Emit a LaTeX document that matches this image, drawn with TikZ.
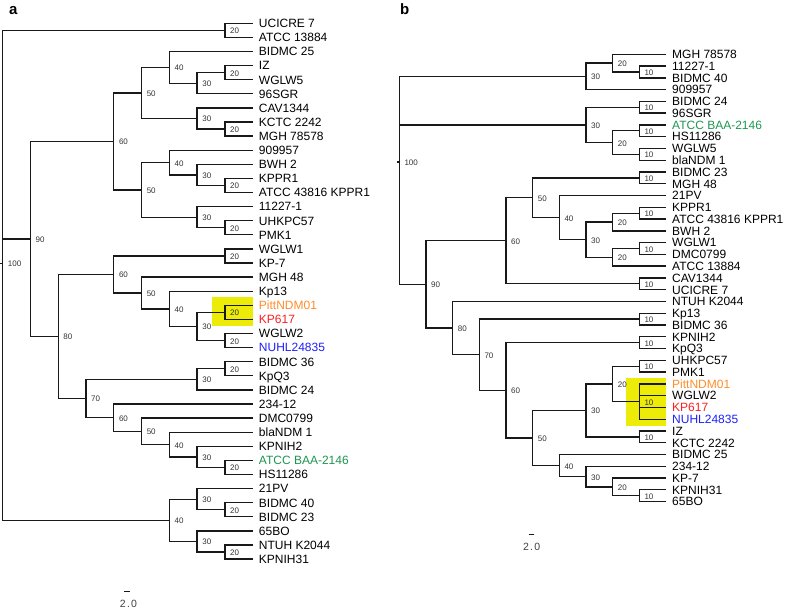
\documentclass[tikz,border=0pt]{standalone}
\usepackage{fontspec}
\setmainfont{Liberation Sans}
\definecolor{hl}{RGB}{236,236,8}
\definecolor{corange}{RGB}{255,140,40}
\definecolor{cred}{RGB}{250,30,30}
\definecolor{cblue}{RGB}{30,30,250}
\definecolor{cgreen}{RGB}{30,150,80}
\newcommand\LA[4][black]{\coordinate (#2) at ({xa(1)},{ya(#3)}); \node[leaf,text=#1] (#2t) at (#2) {#4};}
\newcommand\NA[3]{\coordinate (#1) at ({xa(#2)},{ya(#3)}); \node[nlab] (#1l) at (#1) {#20};}
\newcommand\LB[4][black]{\coordinate (#2) at ({xb(0)},{yb(#3)}); \node[leaf,text=#1] (#2t) at (#2) {#4};}
\newcommand\NB[3]{\coordinate (#1) at ({xb(#2)},{yb(#3)}); \node[nlab] (#1l) at (#1) {#20};}
\newcommand\kids[2]{\foreach \c in {#2}{\draw[br] (#1) |- (\c);}}
\begin{document}
\begin{tikzpicture}[x=1pt,y=-1pt,
  declare function={ya(\i)=23.3+(\i-1)*14.1; xa(\k)=2.7+(10-\k)*27.78; yb(\i)=54.3+(\i-1)*11.77; xb(\k)=399.3+(10-\k)*26.67;},
  br/.style={line width=1.35pt, draw=black!90, line join=miter},
  leaf/.style={anchor=base west, inner sep=0pt, font=\fontsize{12}{12}\selectfont, xshift=6pt, yshift=-4.3pt},
  nlab/.style={anchor=base west, inner sep=0pt, font=\fontsize{8}{8}\selectfont, text=black!80, xshift=5pt, yshift=-3.5pt},
  scl/.style={inner sep=0pt, font=\fontsize{10.5}{10.5}\selectfont\addfontfeatures{LetterSpace=12}, text=black!75},
  ttl/.style={anchor=base west, inner sep=0pt, font=\fontsize{15}{15}\selectfont\bfseries}
]
\useasboundingbox (0,0) rectangle (785,611);
\fill[hl] (211.7,297.3) rectangle (253.3,325.7);
\fill[hl] (625.7,378.3) rectangle (665.5,425.5);
\node[ttl] (ta) at (9,14) {a};
\node[ttl] (tb) at (400,14.3) {b};
% ---------- panel a leaves
\LA{a1}{1}{UCICRE 7}
\LA{a2}{2}{ATCC 13884}
\LA{a3}{3}{BIDMC 25}
\LA{a4}{4}{IZ}
\LA{a5}{5}{WGLW5}
\LA{a6}{6}{96SGR}
\LA{a7}{7}{CAV1344}
\LA{a8}{8}{KCTC 2242}
\LA{a9}{9}{MGH 78578}
\LA{a10}{10}{909957}
\LA{a11}{11}{BWH 2}
\LA{a12}{12}{KPPR1}
\LA{a13}{13}{ATCC 43816 KPPR1}
\LA{a14}{14}{11227-1}
\LA{a15}{15}{UHKPC57}
\LA{a16}{16}{PMK1}
\LA{a17}{17}{WGLW1}
\LA{a18}{18}{KP-7}
\LA{a19}{19}{MGH 48}
\LA{a20}{20}{Kp13}
\LA[corange]{a21}{21}{PittNDM01}
\LA[cred]{a22}{22}{KP617}
\LA{a23}{23}{WGLW2}
\LA[cblue]{a24}{24}{NUHL24835}
\LA{a25}{25}{BIDMC 36}
\LA{a26}{26}{KpQ3}
\LA{a27}{27}{BIDMC 24}
\LA{a28}{28}{234-12}
\LA{a29}{29}{DMC0799}
\LA{a30}{30}{blaNDM 1}
\LA{a31}{31}{KPNIH2}
\LA[cgreen]{a32}{32}{ATCC BAA-2146}
\LA{a33}{33}{HS11286}
\LA{a34}{34}{21PV}
\LA{a35}{35}{BIDMC 40}
\LA{a36}{36}{BIDMC 23}
\LA{a37}{37}{65BO}
\LA{a38}{38}{NTUH K2044}
\LA{a39}{39}{KPNIH31}
% ---------- panel a internal nodes
\NA{aA}{2}{1.5}
\NA{aB}{2}{4.5}
\NA{aC}{3}{5.25}
\NA{aD}{4}{4.125}
\NA{aE}{2}{8.5}
\NA{aF}{3}{7.75}
\NA{aG}{5}{5.9375}
\NA{aH}{2}{12.5}
\NA{aI}{3}{11.75}
\NA{aJ}{4}{10.875}
\NA{aK}{2}{15.5}
\NA{aL}{3}{14.75}
\NA{aM}{5}{12.8125}
\NA{aN}{6}{9.375}
\NA{aO}{2}{17.5}
\NA{aP}{2}{21.5}
\NA{aQ}{2}{23.5}
\NA{aR}{3}{22.5}
\NA{aS}{4}{21.25}
\NA{aT}{5}{20.125}
\NA{aU}{6}{18.8125}
\NA{aV}{2}{25.5}
\NA{aW}{3}{26.25}
\NA{aX}{2}{32.5}
\NA{aY}{3}{31.75}
\NA{aZ}{4}{30.875}
\NA{aAA}{5}{29.9375}
\NA{aAB}{6}{28.96875}
\NA{aAC}{7}{27.609375}
\NA{aAD}{8}{23.2109375}
\NA{aAE}{9}{16.29296875}
\NA{aAF}{2}{35.5}
\NA{aAG}{3}{34.75}
\NA{aAH}{2}{38.5}
\NA{aAI}{3}{37.75}
\NA{aAJ}{4}{36.25}
\NA{aRt}{10}{18.0143}
\coordinate (aStub) at (0,{ya(18.0143)});
\draw[br] (aStub) -- (aRt);
\kids{aA}{a1,a2}
\kids{aB}{a4,a5}
\kids{aC}{aB,a6}
\kids{aD}{a3,aC}
\kids{aE}{a8,a9}
\kids{aF}{a7,aE}
\kids{aG}{aD,aF}
\kids{aH}{a12,a13}
\kids{aI}{a11,aH}
\kids{aJ}{a10,aI}
\kids{aK}{a15,a16}
\kids{aL}{a14,aK}
\kids{aM}{aJ,aL}
\kids{aN}{aG,aM}
\kids{aO}{a17,a18}
\kids{aP}{a21,a22}
\kids{aQ}{a23,a24}
\kids{aR}{aP,aQ}
\kids{aS}{a20,aR}
\kids{aT}{a19,aS}
\kids{aU}{aO,aT}
\kids{aV}{a25,a26}
\kids{aW}{aV,a27}
\kids{aX}{a32,a33}
\kids{aY}{a31,aX}
\kids{aZ}{a30,aY}
\kids{aAA}{a29,aZ}
\kids{aAB}{a28,aAA}
\kids{aAC}{aW,aAB}
\kids{aAD}{aU,aAC}
\kids{aAE}{aN,aAD}
\kids{aAF}{a35,a36}
\kids{aAG}{a34,aAF}
\kids{aAH}{a38,a39}
\kids{aAI}{a37,aAH}
\kids{aAJ}{aAG,aAI}
\kids{aRt}{aA,aAE,aAJ}
% scale bar a
\coordinate (sa1) at (124,591.7);
\coordinate (sa2) at (129.6,591.7);
\draw[br] (sa1) -- (sa2);
\node[scl] (sat) at (128.5,604) {2.0};
% ---------- panel b leaves
\LB{b1}{1}{MGH 78578}
\LB{b2}{2}{11227-1}
\LB{b3}{3}{BIDMC 40}
\LB{b4}{4}{909957}
\LB{b5}{5}{BIDMC 24}
\LB{b6}{6}{96SGR}
\LB[cgreen]{b7}{7}{ATCC BAA-2146}
\LB{b8}{8}{HS11286}
\LB{b9}{9}{WGLW5}
\LB{b10}{10}{blaNDM 1}
\LB{b11}{11}{BIDMC 23}
\LB{b12}{12}{MGH 48}
\LB{b13}{13}{21PV}
\LB{b14}{14}{KPPR1}
\LB{b15}{15}{ATCC 43816 KPPR1}
\LB{b16}{16}{BWH 2}
\LB{b17}{17}{WGLW1}
\LB{b18}{18}{DMC0799}
\LB{b19}{19}{ATCC 13884}
\LB{b20}{20}{CAV1344}
\LB{b21}{21}{UCICRE 7}
\LB{b22}{22}{NTUH K2044}
\LB{b23}{23}{Kp13}
\LB{b24}{24}{BIDMC 36}
\LB{b25}{25}{KPNIH2}
\LB{b26}{26}{KpQ3}
\LB{b27}{27}{UHKPC57}
\LB{b28}{28}{PMK1}
\LB[corange]{b29}{29}{PittNDM01}
\LB{b30}{30}{WGLW2}
\LB[cred]{b31}{31}{KP617}
\LB[cblue]{b32}{32}{NUHL24835}
\LB{b33}{33}{IZ}
\LB{b34}{34}{KCTC 2242}
\LB{b35}{35}{BIDMC 25}
\LB{b36}{36}{234-12}
\LB{b37}{37}{KP-7}
\LB{b38}{38}{KPNIH31}
\LB{b39}{39}{65BO}
% ---------- panel b internal nodes
\NB{bA}{1}{2.5}
\NB{bB}{2}{1.75}
\NB{bC}{3}{2.875}
\NB{bD}{1}{5.5}
\NB{bE}{1}{7.5}
\NB{bF}{1}{9.5}
\NB{bG}{2}{8.5}
\NB{bH}{3}{7}
\NB{bI}{1}{11.5}
\NB{bJ}{1}{14.5}
\NB{bK}{2}{15.25}
\NB{bL}{1}{17.5}
\NB{bM}{2}{18.25}
\NB{bN}{3}{16.75}
\NB{bO}{4}{14.875}
\NB{bP}{5}{13.1875}
\NB{bQ}{1}{20.5}
\NB{bR}{6}{16.84375}
\NB{bS}{1}{23.5}
\NB{bT}{1}{25.5}
\NB{bU}{1}{27.5}
\NB{bV}{1}{30.5}
\NB{bW}{2}{29}
\NB{bX}{1}{33.5}
\NB{bY}{3}{31.25}
\NB{bZ}{1}{38.5}
\NB{bAA}{2}{37.75}
\NB{bAB}{3}{36.875}
\NB{bAC}{4}{35.9375}
\NB{bAD}{5}{33.59375}
\NB{bAE}{6}{29.546875}
\NB{bAF}{7}{26.5234375}
\NB{bAG}{8}{24.26171875}
\NB{bAH}{9}{20.552734}
\NB{bRt}{10}{10.142578}
\coordinate (bStub) at (396.7,{yb(10.142578)});
\draw[br] (bStub) -- (bRt);
\kids{bA}{b2,b3}
\kids{bB}{b1,bA}
\kids{bC}{bB,b4}
\kids{bD}{b5,b6}
\kids{bE}{b7,b8}
\kids{bF}{b9,b10}
\kids{bG}{bE,bF}
\kids{bH}{bD,bG}
\kids{bI}{b11,b12}
\kids{bJ}{b14,b15}
\kids{bK}{bJ,b16}
\kids{bL}{b17,b18}
\kids{bM}{bL,b19}
\kids{bN}{bK,bM}
\kids{bO}{b13,bN}
\kids{bP}{bI,bO}
\kids{bQ}{b20,b21}
\kids{bR}{bP,bQ}
\kids{bS}{b23,b24}
\kids{bT}{b25,b26}
\kids{bU}{b27,b28}
\kids{bV}{b29,b30,b31,b32}
\kids{bW}{bU,bV}
\kids{bX}{b33,b34}
\kids{bY}{bW,bX}
\kids{bZ}{b38,b39}
\kids{bAA}{b37,bZ}
\kids{bAB}{b36,bAA}
\kids{bAC}{b35,bAB}
\kids{bAD}{bY,bAC}
\kids{bAE}{bT,bAD}
\kids{bAF}{bS,bAE}
\kids{bAG}{b22,bAF}
\kids{bAH}{bR,bAG}
\kids{bRt}{bC,bH,bAH}
% scale bar b
\coordinate (sb1) at (528.5,534.3);
\coordinate (sb2) at (533.8,534.3);
\draw[br] (sb1) -- (sb2);
\node[scl] (sbt) at (531.7,546.7) {2.0};
\end{tikzpicture}
\end{document}
